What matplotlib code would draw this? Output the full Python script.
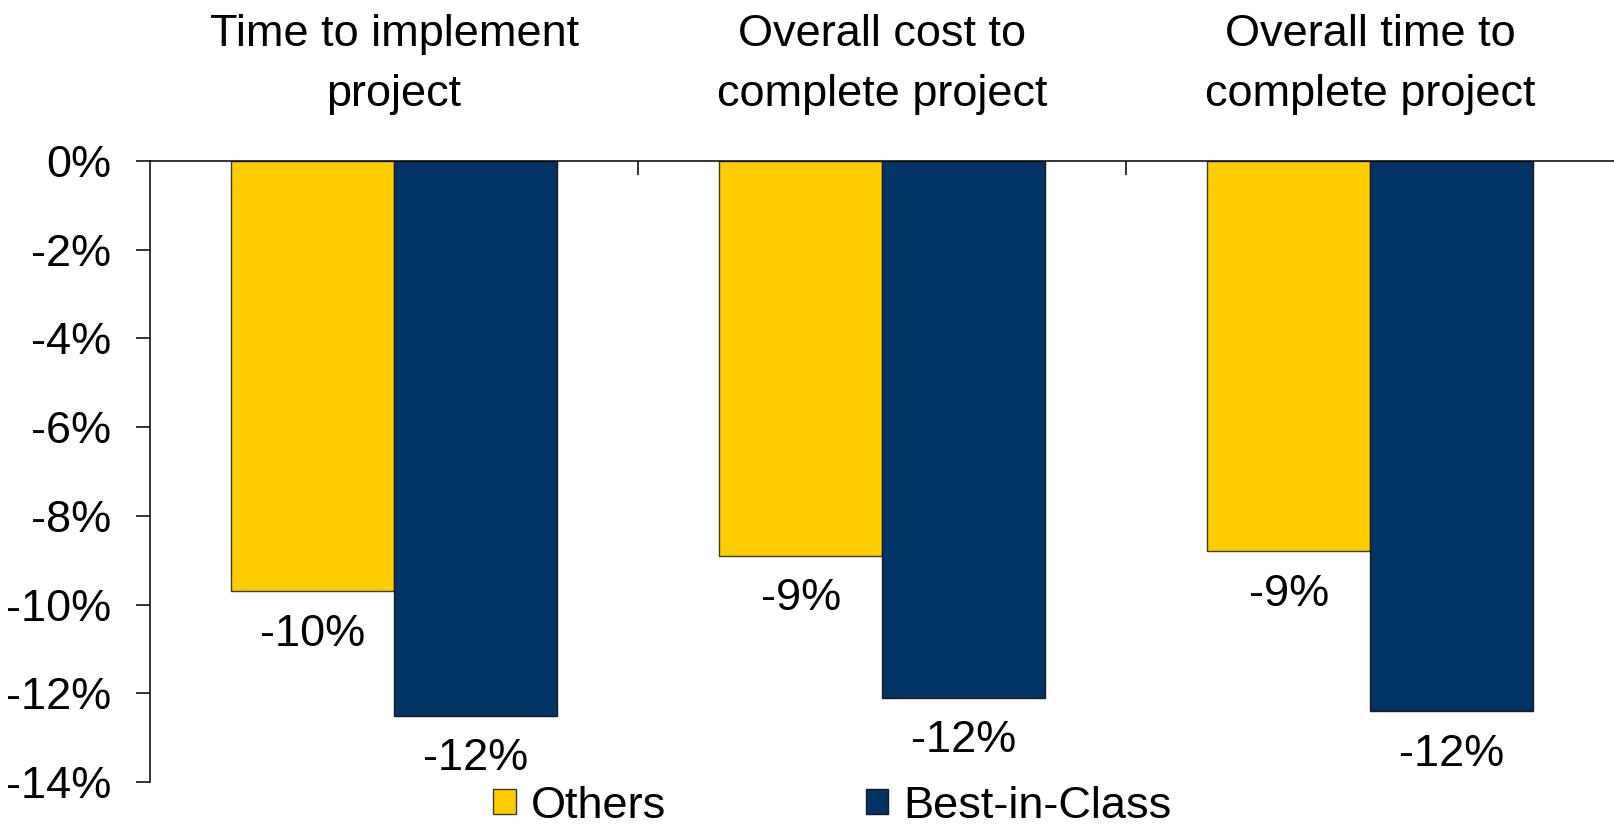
import matplotlib
matplotlib.use("Agg")
import matplotlib.pyplot as plt
import numpy as np

plt.rcParams["font.family"] = ["Liberation Sans", "DejaVu Sans"]
plt.rcParams["axes.unicode_minus"] = False

# Data
categories = ["Time to implement\nproject",
              "Overall cost to\ncomplete project",
              "Overall time to\ncomplete project"]
series_names = ["Others", "Best-in-Class"]
others = [-9.7, -8.9, -8.8]
best_in_class = [-12.5, -12.1, -12.4]
ytick_values = [0, -2, -4, -6, -8, -10, -12, -14]
ytick_labels = ["0%", "-2%", "-4%", "-6%", "-8%", "-10%", "-12%", "-14%"]

colors = ["#FFCC00", "#003366"]
FS = 32.5

fig = plt.figure(figsize=(16.14, 8.25), dpi=100)
ax = fig.add_axes([0.093, 0.052, 0.907, 0.753])

x = np.arange(len(categories))
w = 1 / 3
bars_o = ax.bar(x - w / 2, others, width=w, color=colors[0],
                edgecolor="#3a3a2a", linewidth=1.0, label=series_names[0])
bars_b = ax.bar(x + w / 2, best_in_class, width=w, color=colors[1],
                edgecolor="#1a1a1a", linewidth=1.0, label=series_names[1])

# Value labels under each bar
for bars, vals in ((bars_o, others), (bars_b, best_in_class)):
    for rect, v in zip(bars, vals):
        ax.annotate(f"{v:.0f}%", (rect.get_x() + rect.get_width() / 2, v),
                    xytext=(0, -31), textcoords="offset points",
                    ha="center", va="center", fontsize=FS, color="black")

ax.set_xlim(-0.5, len(categories) - 0.5)
ax.set_ylim(-14, 0)

# Y axis
ax.set_yticks(ytick_values)
ax.set_yticklabels(ytick_labels)
ax.tick_params(axis="y", direction="out", length=10, width=1.1,
               pad=18, labelsize=FS)

# Category labels along the top, separators between groups
ax.xaxis.tick_top()
ax.set_xticks(x)
ax.set_xticklabels(categories, linespacing=1.6)
ax.tick_params(axis="x", which="major", length=0, pad=33, labelsize=FS)
ax.set_xticks(x[:-1] + 0.5, minor=True)
ax.tick_params(axis="x", which="minor", direction="in", length=10,
               width=1.1, top=True, bottom=False)

for side in ("right", "bottom"):
    ax.spines[side].set_visible(False)
for side in ("left", "top"):
    ax.spines[side].set_linewidth(1.1)

fig.legend(handles=[bars_o, bars_b], labels=series_names,
           loc="center", bbox_to_anchor=(0.5157, 0.023), ncol=2,
           frameon=False, fontsize=FS, handlelength=0.5,
           handleheight=0.5, handletextpad=0.33, columnspacing=4.42,
           borderpad=0, borderaxespad=0)

fig.savefig("out.png", dpi=100)
